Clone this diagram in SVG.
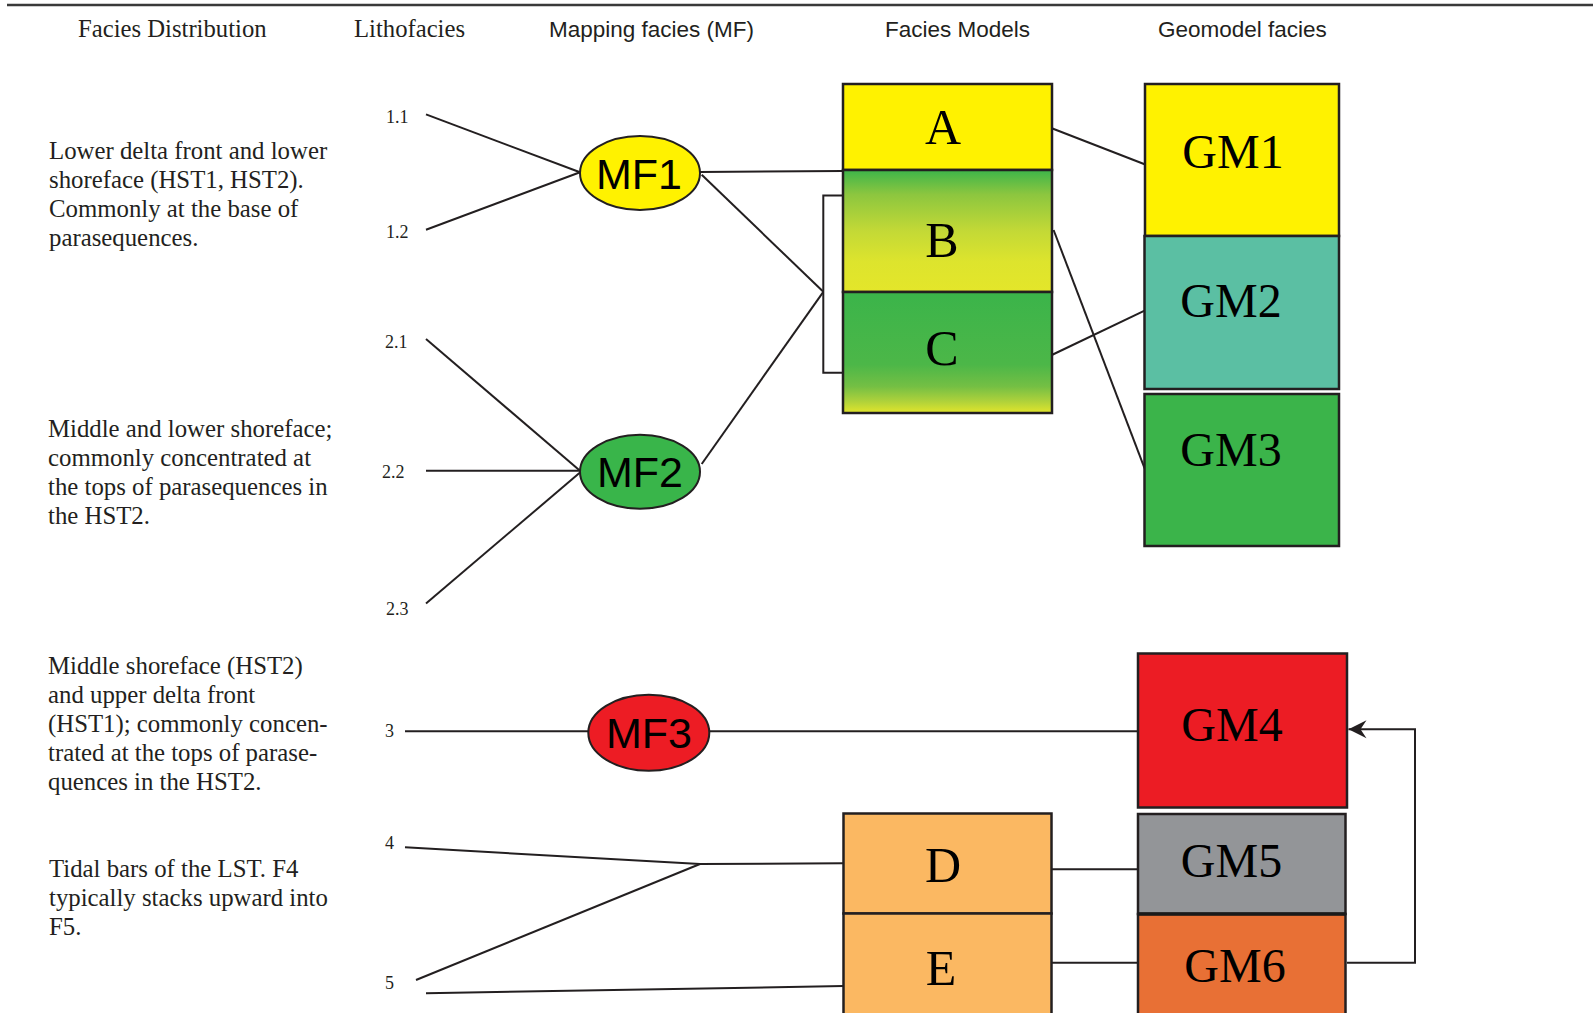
<svg xmlns="http://www.w3.org/2000/svg" width="1593" height="1013" viewBox="0 0 1593 1013">
<defs>
<style>
.hs{font-family:"Liberation Serif","Times New Roman",serif;font-size:24.7px;fill:#231f20}
.hn{font-family:"Liberation Sans",Arial,sans-serif;font-size:22.5px;fill:#231f20}
.desc{font-family:"Liberation Serif","Times New Roman",serif;font-size:24.8px;fill:#231f20}
.lf{font-family:"Liberation Serif","Times New Roman",serif;font-size:18px;fill:#231f20}
.mf{font-family:"Liberation Sans",Arial,sans-serif;font-size:43px;fill:#000;text-anchor:middle}
.fm{font-family:"Liberation Serif","Times New Roman",serif;font-size:50px;fill:#000;text-anchor:middle}
.gm{font-family:"Liberation Serif","Times New Roman",serif;font-size:48px;fill:#000;text-anchor:middle}
.box{stroke:#231f20;stroke-width:2.5}
.ell{stroke:#231f20;stroke-width:2}
.ln{stroke:#231f20;stroke-width:2;fill:none}
</style>
<linearGradient id="gB" x1="0" y1="0" x2="0" y2="1">
<stop offset="0" stop-color="#3db54a"/>
<stop offset="0.2" stop-color="#8cc63f"/>
<stop offset="0.5" stop-color="#c3d936"/>
<stop offset="0.75" stop-color="#dde42d"/>
<stop offset="1" stop-color="#e4e62a"/>
</linearGradient>
<linearGradient id="gC" x1="0" y1="0" x2="0" y2="1">
<stop offset="0" stop-color="#3bb44a"/>
<stop offset="0.6" stop-color="#4cb748"/>
<stop offset="0.78" stop-color="#74bf44"/>
<stop offset="0.9" stop-color="#add13b"/>
<stop offset="1" stop-color="#e2e52b"/>
</linearGradient>
<marker id="arr" markerUnits="userSpaceOnUse" viewBox="-19 -11 20 22" markerWidth="20" markerHeight="22" refX="0" refY="0" orient="auto">
<path d="M0,0 L-18,-9 L-12,0 L-18,9 Z" fill="#231f20"/>
</marker>
</defs>
<rect width="1593" height="1013" fill="#fff"/>
<line x1="7" y1="5" x2="1593" y2="5" stroke="#3a3a3a" stroke-width="2.5"/>

<g id="headers">
<text class="hs" x="78" y="37">Facies Distribution</text>
<text class="hs" x="354" y="37">Lithofacies</text>
<text class="hn" x="549" y="37">Mapping facies (MF)</text>
<text class="hn" x="885" y="37">Facies Models</text>
<text class="hn" x="1158" y="37">Geomodel facies</text>
</g>

<g id="descriptions">
<text class="desc" x="49" y="159">Lower delta front and lower</text>
<text class="desc" x="49" y="188">shoreface (HST1, HST2).</text>
<text class="desc" x="49" y="217">Commonly at the base of</text>
<text class="desc" x="49" y="246">parasequences.</text>
<text class="desc" x="48" y="437">Middle and lower shoreface;</text>
<text class="desc" x="48" y="466">commonly concentrated at</text>
<text class="desc" x="48" y="495">the tops of parasequences in</text>
<text class="desc" x="48" y="524">the HST2.</text>
<text class="desc" x="48" y="674">Middle shoreface (HST2)</text>
<text class="desc" x="48" y="703">and upper delta front</text>
<text class="desc" x="48" y="732">(HST1); commonly concen-</text>
<text class="desc" x="48" y="761">trated at the tops of parase-</text>
<text class="desc" x="48" y="790">quences in the HST2.</text>
<text class="desc" x="49" y="877">Tidal bars of the LST. F4</text>
<text class="desc" x="49" y="906">typically stacks upward into</text>
<text class="desc" x="49" y="935">F5.</text>
</g>

<g id="lithofacies">
<text class="lf" x="386" y="123">1.1</text>
<text class="lf" x="386" y="238">1.2</text>
<text class="lf" x="385" y="348">2.1</text>
<text class="lf" x="382" y="478">2.2</text>
<text class="lf" x="386" y="615">2.3</text>
<text class="lf" x="385" y="737">3</text>
<text class="lf" x="385" y="849">4</text>
<text class="lf" x="385" y="989">5</text>
</g>

<g id="connectors">
<line class="ln" x1="426" y1="114.4" x2="580" y2="172.3"/>
<line class="ln" x1="426" y1="229.8" x2="580" y2="172.3"/>
<line class="ln" x1="700" y1="172" x2="843" y2="171"/>
<line class="ln" x1="701.7" y1="174.7" x2="823.3" y2="291.8"/>
<line class="ln" x1="701.7" y1="464" x2="823.3" y2="291.8"/>
<path class="ln" d="M843,195.4 H823.3 V372.7 H843"/>
<line class="ln" x1="426" y1="339" x2="580" y2="470.8"/>
<line class="ln" x1="426" y1="470.8" x2="580" y2="470.8"/>
<line class="ln" x1="426" y1="603.4" x2="580" y2="472.6"/>
<line class="ln" x1="1051.8" y1="128.3" x2="1144.6" y2="164.3"/>
<line class="ln" x1="1053.6" y1="230" x2="1144.6" y2="468.3"/>
<line class="ln" x1="1051.8" y1="355" x2="1144.6" y2="310.7"/>
<line class="ln" x1="405" y1="731.3" x2="588.3" y2="731.3" stroke-width="3"/>
<line class="ln" x1="709" y1="731.3" x2="1138" y2="731.3" stroke-width="3"/>
<line class="ln" x1="405" y1="847.3" x2="700" y2="864"/>
<line class="ln" x1="700" y1="864" x2="843.3" y2="863.3"/>
<line class="ln" x1="416" y1="980" x2="700" y2="864"/>
<line class="ln" x1="426" y1="993.3" x2="843.3" y2="986"/>
<line class="ln" x1="1051.2" y1="869.3" x2="1138" y2="869.3"/>
<line class="ln" x1="1051.2" y1="962.7" x2="1138" y2="962.7"/>
<path class="ln" d="M1347,962.7 H1415 V729.3 H1348.5" marker-end="url(#arr)"/>
</g>

<g id="MF1"><ellipse class="ell" cx="640" cy="173" rx="60" ry="37" fill="#fff200"/><text class="mf" x="639" y="189">MF1</text></g>
<g id="MF2"><ellipse class="ell" cx="640" cy="471.7" rx="60" ry="37" fill="#39b54a"/><text class="mf" x="640" y="487">MF2</text></g>
<g id="MF3"><ellipse class="ell" cx="648.8" cy="732.8" rx="60.5" ry="38" fill="#ed1c24"/><text class="mf" x="649" y="748">MF3</text></g>

<g id="A"><rect class="box" x="843" y="84" width="209" height="86" fill="#fff200"/><text class="fm" x="943" y="144">A</text></g>
<g id="B"><rect class="box" x="843" y="170" width="209" height="122" fill="url(#gB)"/><text class="fm" x="942" y="257">B</text></g>
<g id="C"><rect class="box" x="843" y="292" width="209" height="121" fill="url(#gC)"/><text class="fm" x="942" y="365">C</text></g>
<g id="D"><rect class="box" x="843.5" y="813.5" width="208" height="100" fill="#fbb862"/><text class="fm" x="943" y="882">D</text></g>
<g id="E"><rect class="box" x="843.5" y="913.5" width="208" height="105" fill="#fbb862"/><text class="fm" x="941" y="985">E</text></g>

<g id="GM1"><rect class="box" x="1145" y="84" width="194" height="152" fill="#fff200"/><text class="gm" x="1233" y="168">GM1</text></g>
<g id="GM2"><rect class="box" x="1144.5" y="236" width="194.5" height="153" fill="#5bbfa3"/><text class="gm" x="1231" y="317">GM2</text></g>
<g id="GM3"><rect class="box" x="1144.5" y="394" width="194.5" height="152" fill="#3bb44a"/><text class="gm" x="1231" y="466">GM3</text></g>
<g id="GM4"><rect class="box" x="1138" y="653.5" width="209" height="154" fill="#ec1c24"/><text class="gm" x="1232" y="741">GM4</text></g>
<g id="GM5"><rect class="box" x="1138" y="814" width="207.5" height="100" fill="#939598"/><text class="gm" x="1231.5" y="877">GM5</text></g>
<g id="GM6"><rect class="box" x="1138" y="914" width="207.5" height="104" fill="#e87035"/><line x1="1138" y1="914" x2="1345.5" y2="914" stroke="#1a1a1a" stroke-width="3.5"/><text class="gm" x="1235" y="982">GM6</text></g>
</svg>
